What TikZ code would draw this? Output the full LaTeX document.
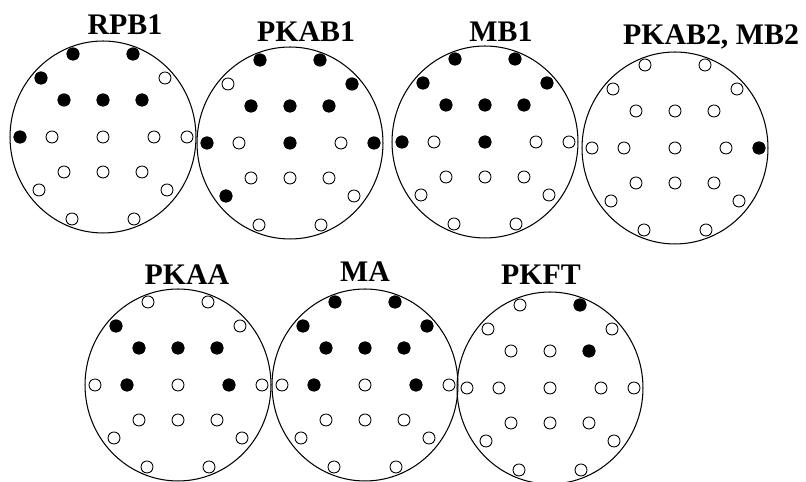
\documentclass[tikz,border=0pt]{standalone}
\usepackage{fontspec}
\setmainfont{Liberation Serif}
\usetikzlibrary{shapes.geometric}

\begin{document}
\begin{tikzpicture}[
    x=0.02cm, y=-0.02cm,
    head/.style={draw, ellipse, line width=0.6pt, inner sep=0pt,
      minimum width=3.72cm, minimum height=3.84cm},
    elec/.style={draw, circle, fill=white, line width=0.5pt, inner sep=0pt,
      minimum size=0.24cm},
    active/.style={elec, fill=black},
    title/.style={anchor=base, font=\bfseries\fontsize{17}{20}\selectfont}
    ]
    \useasboundingbox (0,0) rectangle (806,482);

    % Heads
    \node[head] (rpb)   at (103,137) {};
    \node[head] (pkab1) at (290,143) {};
    \node[head] (mb1)   at (485,142) {};
    \node[head] (pkab2) at (675,148) {};
    \node[head] (pkaa)  at (178,385) {};
    \node[head] (ma)    at (365,385) {};
    \node[head] (pkft)  at (550,388) {};

    \node[title] (t-rpb)   at (125,35)  {RPB1};
    \node[title] (t-pkab1) at (306,42)  {PKAB1};
    \node[title] (t-mb1)   at (501,42)  {MB1};
    \node[title] (t-pkab2) at (711,45)  {PKAB2, MB2};
    \node[title] (t-pkaa)  at (187,285) {PKAA};
    \node[title] (t-ma)    at (365,282) {MA};
    \node[title] (t-pkft)  at (541,285) {PKFT};

    % Electrodes
    \foreach \hd in {rpb,pkab1,mb1,pkab2,pkaa,ma,pkft}
        {\foreach \ex/\ey/\en in {-30/-83/Fp1, 30/-83/Fp2, -62/-59/F7, 62/-59/F8,
            -39/-37/F3, 0/-37/Fz, 39/-37/F4,
            -83/0/T3, -51/0/C3, 0/0/Cz, 51/0/C4, 84/0/T4,
            -39/35/P3, 0/35/Pz, 39/35/P4, -64/53/T5, 64/53/T6,
            -31/82/O1, 31/82/O2}
            \node[elec] (\hd-\en) at ([shift={(\ex,\ey)}]\hd.center) {};
        }

    % Active electrodes
    \foreach \en in {Fp1,Fp2,F7,F3,Fz,F4,T3}
        \node[active] at (rpb-\en) {};
    \foreach \en in {Fp1,Fp2,F8,F3,Fz,F4,T3,Cz,T4,T5}
        \node[active] at (pkab1-\en) {};
    \foreach \en in {Fp1,Fp2,F7,F8,F3,Fz,F4,T3,Cz}
        \node[active] at (mb1-\en) {};
    \node[active] at (pkab2-T4) {};
    \foreach \en in {F7,F3,Fz,F4,C3,C4}
        \node[active] at (pkaa-\en) {};
    \foreach \en in {Fp1,Fp2,F7,F8,F3,Fz,F4,C3,C4}
        \node[active] at (ma-\en) {};
    \foreach \en in {Fp2,F4}
        \node[active] at (pkft-\en) {};
\end{tikzpicture}
\end{document}
